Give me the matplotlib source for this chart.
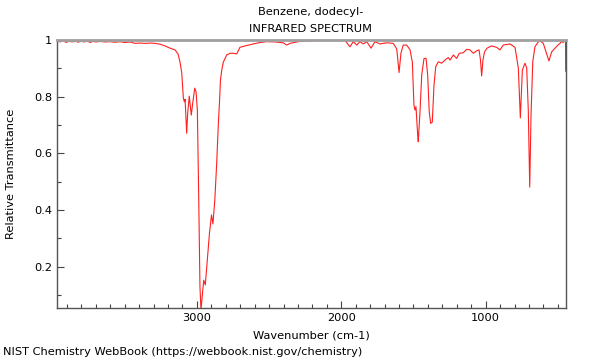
import matplotlib
matplotlib.use("Agg")
import matplotlib.pyplot as plt
from matplotlib.ticker import MultipleLocator, FuncFormatter

title_name = "Benzene, dodecyl-"
title_kind = "INFRARED SPECTRUM"
x_label = "Wavenumber (cm-1)"
y_label = "Relative Transmittance"
footer = "NIST Chemistry WebBook (https://webbook.nist.gov/chemistry)"

wavenumber = [3967, 3948, 3927, 3906, 3886, 3865, 3844, 3823, 3803, 3782, 3761, 3740,
              3720, 3699, 3671, 3636, 3602, 3567, 3533, 3498, 3463, 3429, 3394, 3359,
              3325, 3290, 3256, 3221, 3186, 3152, 3131, 3117, 3105, 3094, 3087, 3082,
              3071, 3064, 3053, 3039, 3029, 3015, 3006, 2997, 2988, 2979, 2972, 2961,
              2953, 2942, 2927, 2913, 2899, 2889, 2876, 2863, 2852, 2843, 2837, 2828,
              2817, 2794, 2771, 2748, 2724, 2702, 2667, 2609, 2563, 2517, 2459, 2402,
              2378, 2355, 2286, 2182, 2055, 1974, 1940, 1917, 1893, 1871, 1848, 1824,
              1794, 1767, 1732, 1686, 1640, 1616, 1600, 1587, 1571, 1547, 1524, 1508,
              1497, 1490, 1483, 1471, 1467, 1455, 1443, 1427, 1413, 1402, 1391, 1381,
              1370, 1358, 1346, 1328, 1305, 1282, 1259, 1247, 1224, 1201, 1183, 1155,
              1132, 1109, 1086, 1062, 1046, 1036, 1028, 1019, 1008, 991, 959, 924,
              901, 878, 832, 797, 774, 760, 746, 728, 716, 705, 695, 686, 674, 659,
              629, 601, 578, 562, 543, 520, 499, 485, 475, 464, 454, 447, 446]
transmittance = [0.996, 0.993, 0.998, 0.991, 0.996, 0.993, 0.997, 0.992, 0.996, 0.993, 0.997, 0.991,
                 0.995, 0.993, 0.995, 0.993, 0.994, 0.992, 0.994, 0.991, 0.993, 0.988, 0.989, 0.988,
                 0.989, 0.988, 0.985, 0.979, 0.971, 0.965, 0.951, 0.922, 0.883, 0.795, 0.782, 0.791,
                 0.671, 0.742, 0.802, 0.735, 0.778, 0.830, 0.817, 0.753, 0.460, 0.130, 0.048, 0.107,
                 0.153, 0.136, 0.231, 0.319, 0.383, 0.351, 0.436, 0.566, 0.700, 0.788, 0.859, 0.894,
                 0.922, 0.947, 0.953, 0.953, 0.951, 0.974, 0.979, 0.986, 0.991, 0.994, 0.993, 0.990,
                 0.982, 0.988, 0.995, 0.998, 1.000, 0.998, 0.976, 0.994, 0.982, 0.994, 0.986, 0.994,
                 0.971, 0.994, 0.986, 0.990, 0.988, 0.968, 0.885, 0.953, 0.982, 0.982, 0.965, 0.922,
                 0.771, 0.753, 0.765, 0.665, 0.641, 0.746, 0.877, 0.935, 0.935, 0.877, 0.747, 0.706,
                 0.710, 0.841, 0.906, 0.923, 0.918, 0.929, 0.938, 0.929, 0.947, 0.935, 0.953, 0.955,
                 0.967, 0.965, 0.953, 0.962, 0.965, 0.929, 0.873, 0.929, 0.958, 0.971, 0.979, 0.974,
                 0.965, 0.982, 0.986, 0.974, 0.901, 0.725, 0.894, 0.918, 0.901, 0.753, 0.481, 0.735, 0.923, 0.976,
                 0.998, 0.988, 0.951, 0.926, 0.958, 0.971, 0.982, 0.988, 0.995, 0.991, 0.998, 0.993, 0.89]

fs = 8.2
fig = plt.figure(figsize=(6, 3.6), dpi=100)
ax = fig.add_axes([0.0955, 0.1444, 0.8473, 0.7446])
ax.plot(wavenumber, transmittance, color="#ff2020", lw=0.8)

ax.set_xlim(3967, 446)
ax.set_ylim(0.0547, 1.0)
ax.xaxis.set_major_locator(MultipleLocator(1000))
ax.xaxis.set_minor_locator(MultipleLocator(100))
ax.yaxis.set_major_locator(MultipleLocator(0.2))
ax.yaxis.set_minor_locator(MultipleLocator(0.1))
ax.yaxis.set_major_formatter(FuncFormatter(lambda v, p: f"{v:g}"))
ax.xaxis.set_major_formatter(FuncFormatter(lambda v, p: f"{v:g}"))

ax.tick_params(which="both", direction="in", colors="#444444", labelcolor="black",
               labelsize=fs, top=False, right=False)
ax.tick_params(which="major", length=5, width=0.8)
ax.tick_params(which="minor", length=3, width=0.8)

for s in ["left", "bottom", "right"]:
    ax.spines[s].set_color("#555555")
    ax.spines[s].set_linewidth(1.0)
ax.spines["top"].set_color("#a0a0a0")
ax.spines["top"].set_linewidth(2.0)

ax.set_xlabel(x_label, fontsize=fs)
ax.set_ylabel(y_label, fontsize=fs)
ax.xaxis.set_label_coords(0.5, -0.085)
ax.yaxis.set_label_coords(-0.081, 0.5)
fig.text(0.518, 1 - 12 / 360, title_name, ha="center", va="center", fontsize=fs)
fig.text(0.518, 1 - 29 / 360, title_kind, ha="center", va="center", fontsize=fs)
fig.text(3 / 600, 1 - 352 / 360, footer, ha="left", va="center", fontsize=fs)

fig.savefig("out.png", dpi=100)
